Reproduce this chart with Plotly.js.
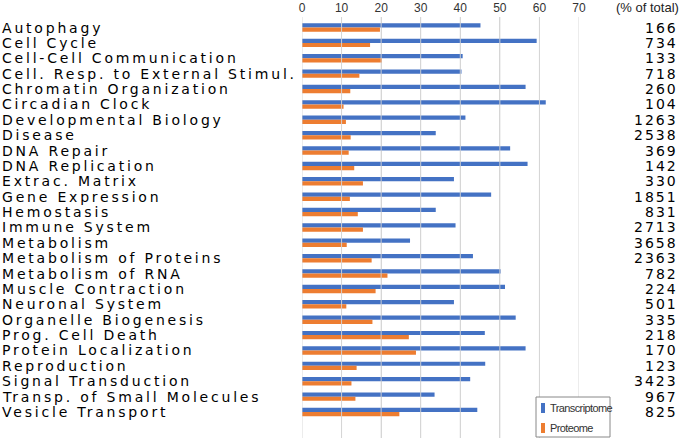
<!DOCTYPE html>
<html>
<head>
<meta charset="utf-8">
<script src="https://cdn.plot.ly/plotly-3.0.1.min.js"></script>
<style>html,body{margin:0;padding:0;background:#fff;}#chart{width:685px;height:438px;}</style>
</head>
<body>
<div id="chart"></div>
<script>
const categories = ["Autophagy","Cell Cycle","Cell-Cell Communication","Cell. Resp. to External Stimul.","Chromatin Organization","Circadian Clock","Developmental Biology","Disease","DNA Repair","DNA Replication","Extrac. Matrix","Gene Expression","Hemostasis","Immune System","Metabolism","Metabolism of Proteins","Metabolism of RNA","Muscle Contraction","Neuronal System","Organelle Biogenesis","Prog. Cell Death","Protein Localization","Reproduction","Signal Transduction","Transp. of Small Molecules","Vesicle Transport"];
const transcriptome = [45.1,59.3,40.6,40.3,56.5,61.6,41.3,33.8,52.6,57.0,38.4,47.8,33.8,38.8,27.3,43.2,50.2,51.3,38.4,54.0,46.2,56.5,46.3,42.5,33.5,44.3];
const proteome = [19.7,17.2,20.2,14.5,12.2,10.5,11.1,12.3,11.8,13.2,15.4,12.1,14.1,15.4,11.3,17.6,21.6,18.6,11.2,17.8,27.0,28.8,13.8,12.5,13.5,24.6];
const totals = ["166","734","133","718","260","104","1263","2538","369","142","330","1851","831","2713","3658","2363","782","224","501","335","218","170","123","3423","967","825"];
const xTicks = [0,10,20,30,40,50,60,70];
const seriesNames = ["Transcriptome","Proteome"];
const seriesColors = ["#4472C4","#ED7D31"];
const totalHeader = "(% of total)";

const W = 685, H = 438;
const plotL = 302, plotR = 579, plotT = 17, plotB = 438;
const pw = plotR - plotL, ph = plotB - plotT;
const px = v => (v - plotL) / pw;
const py = v => (plotB - v) / ph;
const xMin = xTicks[0], xMax = xTicks[xTicks.length - 1];

const traces = [
  {type:'bar', orientation:'h', name:seriesNames[0], y:categories, x:transcriptome,
   marker:{color:seriesColors[0], line:{width:0}}, hoverinfo:'skip'},
  {type:'bar', orientation:'h', name:seriesNames[1], y:categories, x:proteome,
   marker:{color:seriesColors[1], line:{width:0}}, hoverinfo:'skip'}
];

const sp = (t, ls) => '<span style="letter-spacing:' + ls + 'px">' + t + '</span>';

const annotations = [];
categories.forEach((c,i)=>{
  annotations.push({xref:'paper', yref:'y', x:px(0), y:c, xanchor:'left', yanchor:'middle',
    text:sp(c, 2.8), showarrow:false, font:{family:'DejaVu Sans', size:14, color:'#000'}});
  annotations.push({xref:'paper', yref:'y', x:px(680), y:c, xanchor:'right', yanchor:'middle',
    text:sp(totals[i], 2.0), showarrow:false, font:{family:'DejaVu Sans', size:14, color:'#000'}});
});
annotations.push({xref:'paper', yref:'paper', x:px(681), y:py(7.5), xanchor:'right', yanchor:'middle',
  text:totalHeader, showarrow:false, font:{family:'Liberation Sans', size:13, color:'#222'}});

// vertical gridlines at each tick on the x scale
const shapes = xTicks.map(t => ({type:'line', xref:'x', yref:'paper', x0:t, x1:t, y0:0, y1:1,
  line:{color:'#d6d6d6', width:1}, layer:'above', opacity:0.9}));

// legend (drawn by hand to match the compact boxed key)
shapes.push({type:'rect', xref:'paper', yref:'paper', x0:px(536), x1:px(610), y0:py(437), y1:py(397),
   line:{color:'#888', width:1}, fillcolor:'#fff', layer:'above'});
const legY = [408, 428];
seriesNames.forEach((n,i)=>{
  shapes.push({type:'rect', xref:'paper', yref:'paper', x0:px(541), x1:px(545),
    y0:py(legY[i]+5), y1:py(legY[i]-5), line:{width:0}, fillcolor:seriesColors[i], layer:'above'});
  annotations.push({xref:'paper', yref:'paper', x:px(548), y:py(legY[i]), xanchor:'left', yanchor:'middle',
    text:sp(n, -0.6), showarrow:false, font:{family:'Liberation Sans', size:11, color:'#333'}});
});

const layout = {
  width:W, height:H,
  margin:{l:plotL, r:W-plotR, t:plotT, b:H-plotB, pad:0, autoexpand:false},
  paper_bgcolor:'#fff', plot_bgcolor:'rgba(0,0,0,0)',
  barmode:'group', bargap:0.45, bargroupgap:0,
  showlegend:false,
  xaxis:{side:'top', range:[xMin,xMax], tickvals:xTicks, ticktext:xTicks.map(String),
    showgrid:true, gridcolor:'#d6d6d6', gridwidth:1, zeroline:false,
    showline:false, ticks:'', ticklabelstandoff:2,
    tickfont:{family:'Liberation Sans', size:12, color:'#333'}, fixedrange:true},
  yaxis:{type:'category', categoryorder:'array', categoryarray:categories,
    range:[26.69,-0.683], showticklabels:false, showgrid:false, zeroline:false,
    showline:false, ticks:'', fixedrange:true},
  shapes:shapes,
  annotations:annotations
};

Plotly.newPlot('chart', traces, layout, {staticPlot:true, displayModeBar:false});
</script>
</body>
</html>
